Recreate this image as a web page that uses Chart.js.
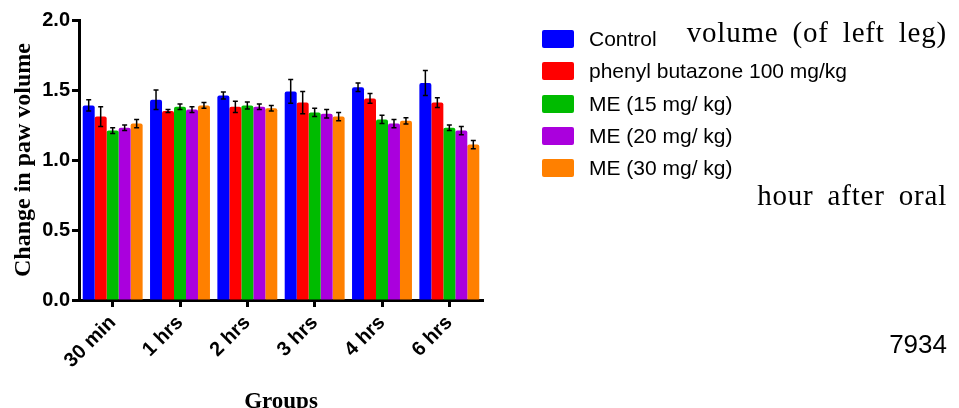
<!DOCTYPE html>
<html>
<head>
<meta charset="utf-8">
<script src="https://cdn.jsdelivr.net/npm/chart.js@4.4.1/dist/chart.umd.min.js"></script>
<style>
    body { margin: 0; background: #fff; }
    #wrap { position: relative; width: 959px; height: 408px; overflow: hidden; }
    #paw { position: absolute; left: 0; top: 0; }
    #legend { position: absolute; left: 542px; top: 30px; font-family: "Liberation Sans", Arial, sans-serif; font-size: 21px; color: #000; }
    #legend .row { position: relative; height: 32.3px; }
    #legend .box { position: absolute; left: 0; top: 0; width: 32px; height: 18px; border-radius: 2px; }
    #legend .txt { position: absolute; left: 47px; top: -3px; white-space: nowrap; line-height: 24px; }
    .serif { position: absolute; right: 12px; font-family: "Liberation Serif", "Times New Roman", serif; font-size: 29px; line-height: 29px; word-spacing: 6px; letter-spacing: 0.8px; white-space: nowrap; color: #000; }
    #num { position: absolute; right: 12px; top: 331px; font-family: "Liberation Sans", Arial, sans-serif; font-size: 26px; line-height: 26px; color: #000; }
</style>
</head>
<body>
<div id="wrap">
    <canvas id="paw" width="959" height="408"></canvas>
    <div id="legend"></div>
    <div class="serif" style="top:18px">volume (of left leg)</div>
    <div class="serif" style="top:181px">hour after oral</div>
    <div id="num">7934</div>
</div>
<script>
var groups = ["30 min", "1 hrs", "2 hrs", "3 hrs", "4 hrs", "6 hrs"];
var seriesNames = ["Control", "phenyl butazone 100 mg/kg", "ME (15 mg/ kg)", "ME (20 mg/ kg)", "ME (30 mg/ kg)"];
var seriesColors = ["#0000ff", "#ff0000", "#00bb00", "#aa00dd", "#ff8000"];

var control = [1.39, 1.43, 1.46, 1.49, 1.52, 1.55];
var controlErr = [0.04, 0.07, 0.025, 0.085, 0.03, 0.09];
var phenyl = [1.31, 1.35, 1.38, 1.41, 1.44, 1.41];
var phenylErr = [0.07, 0.01, 0.04, 0.08, 0.035, 0.035];
var me15 = [1.21, 1.38, 1.39, 1.34, 1.29, 1.23];
var me15Err = [0.02, 0.02, 0.025, 0.03, 0.03, 0.02];
var me20 = [1.23, 1.36, 1.38, 1.33, 1.26, 1.21];
var me20Err = [0.02, 0.02, 0.02, 0.03, 0.03, 0.03];
var me30 = [1.26, 1.39, 1.37, 1.31, 1.28, 1.11];
var me30Err = [0.03, 0.02, 0.02, 0.03, 0.022, 0.03];

var yTicks = [0, 0.5, 1.0, 1.5, 2.0];

var values = [control, phenyl, me15, me20, me30];
var errors = [controlErr, phenylErr, me15Err, me20Err, me30Err];

var datasets = [];
for (var i = 0; i < values.length; i++) {
    datasets.push({
        label: seriesNames[i],
        data: values[i],
        err: errors[i],
        backgroundColor: seriesColors[i],
        borderWidth: 0,
        borderRadius: { topLeft: 2, topRight: 2 },
        borderSkipped: "bottom",
        categoryPercentage: 0.89,
        barPercentage: 1.0
    });
}

// legend as plain html
var lg = document.getElementById("legend");
seriesNames.forEach(function (name, i) {
    var row = document.createElement("div");
    row.className = "row";
    row.innerHTML = '<div class="box" style="background:' + seriesColors[i] + '"></div><div class="txt">' + name + '</div>';
    lg.appendChild(row);
});

// error bars drawn from the y scale
var errorBars = {
    id: "errorBars",
    afterDatasetsDraw: function (chart) {
        var ctx = chart.ctx;
        var y = chart.scales.y;
        ctx.save();
        ctx.strokeStyle = "#000";
        ctx.lineWidth = 1.5;
        chart.data.datasets.forEach(function (ds, di) {
            var meta = chart.getDatasetMeta(di);
            meta.data.forEach(function (bar, j) {
                var v = ds.data[j], e = ds.err[j];
                var top = y.getPixelForValue(v + e);
                var bot = y.getPixelForValue(v - e);
                ctx.beginPath();
                ctx.moveTo(bar.x, top);
                ctx.lineTo(bar.x, bot);
                ctx.moveTo(bar.x - 2.5, top);
                ctx.lineTo(bar.x + 2.5, top);
                ctx.moveTo(bar.x - 2.5, bot);
                ctx.lineTo(bar.x + 2.5, bot);
                ctx.stroke();
            });
        });
        ctx.restore();
    }
};

var tickFont = { family: "Liberation Sans", size: 20, weight: "bold" };
var titleFont = { family: "Liberation Serif", size: 23, weight: "bold", lineHeight: 0.5 };

new Chart(document.getElementById("paw").getContext("2d"), {
    type: "bar",
    data: { labels: groups, datasets: datasets },
    options: {
        responsive: false,
        animation: false,
        layout: { padding: { top: 20, left: 0, right: 476, bottom: 0 } },
        plugins: { legend: { display: false }, tooltip: { enabled: false } },
        scales: {
            x: {
                offset: true,
                grid: { display: true, drawOnChartArea: false, drawTicks: true, offset: false, tickLength: 7, tickWidth: 3, tickColor: "#000" },
                border: { display: true, color: "#000", width: 3 },
                ticks: { color: "#000", font: tickFont, minRotation: 45, maxRotation: 45, padding: 4 },
                title: { display: true, text: "Groups", color: "#000", font: titleFont, padding: { top: 0, bottom: 0 } },
                afterFit: function (s) { s.height = 108; }
            },
            y: {
                min: 0,
                max: 2.0,
                afterBuildTicks: function (s) { s.ticks = yTicks.map(function (v) { return { value: v }; }); },
                grid: { display: true, drawOnChartArea: false, drawTicks: true, tickLength: 7, tickWidth: 3, tickColor: "#000" },
                border: { display: true, color: "#000", width: 3 },
                ticks: { color: "#000", font: tickFont, padding: 2, callback: function (v) { return v.toFixed(1); } },
                title: { display: true, text: "Change in paw volume", color: "#000", font: { family: "Liberation Serif", size: 24, weight: "bold", lineHeight: 1 }, padding: { top: 12, bottom: 0 } },
                afterFit: function (s) { s.width = 79; }
            }
        }
    },
    plugins: [errorBars]
});
</script>
</body>
</html>
